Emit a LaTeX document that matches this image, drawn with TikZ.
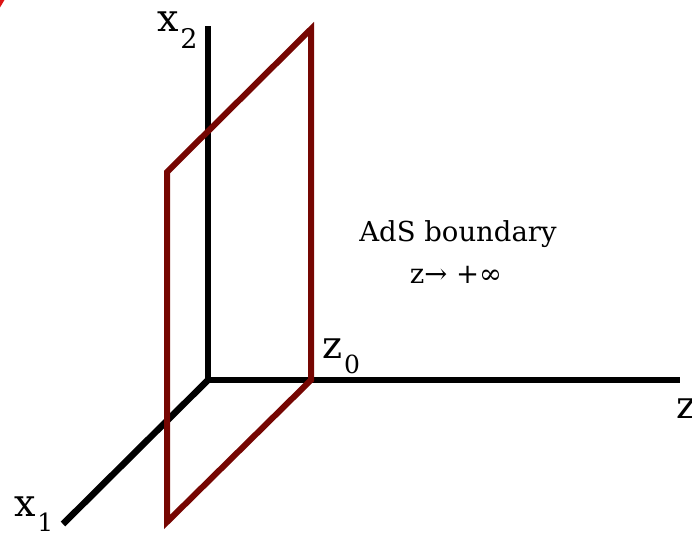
\documentclass[tikz,border=0pt]{standalone}
\usepackage{fontspec}
\setmainfont{DejaVu Serif}
\definecolor{plane}{RGB}{118,6,2}
\definecolor{markred}{RGB}{220,20,20}
\begin{document}
\begin{tikzpicture}[x=1pt,y=-1pt,
  axis/.style={line width=6.5pt,black,line cap=butt},
  planeedge/.style={line width=6pt,plane,line join=miter},
  lbl/.style={inner sep=0pt,outer sep=0pt,font=\fontsize{38}{38}\selectfont},
  txt/.style={inner sep=0pt,outer sep=0pt,font=\fontsize{27.5}{30}\selectfont}]
\useasboundingbox (0,0) rectangle (692,534);
\fill[markred] (0,0) -- (4.5,0) -- (0,7.5) -- cycle;
% axes
\coordinate (O) at (208,380);
\coordinate (x2end) at (208,26);
\coordinate (zend) at (680,380);
\coordinate (x1end) at (63,524);
\draw[axis] (O) -- (x2end);
\draw[axis] (O) -- (zend);
\draw[axis] (O) -- (x1end);
% plane
\coordinate (P1) at (311,29);
\coordinate (P2) at (311,380);
\coordinate (P3) at (167,522);
\coordinate (P4) at (167,172);
\draw[planeedge] (P1) -- (P2) -- (P3) -- (P4) -- cycle;
% labels
\node[lbl,anchor=base west] (lx2) at (157,32) {x\kern2pt\raisebox{-17pt}{\fontsize{27}{27}\selectfont 2}};
\node[lbl,anchor=base west] (lx1) at (14,516) {x\kern2pt\raisebox{-15pt}{\fontsize{25}{25}\selectfont 1}};
\node[lbl,anchor=base west] (lz0) at (322,358) {z\kern2pt\raisebox{-15pt}{\fontsize{25}{25}\selectfont 0}};
\node[lbl,anchor=base west] (lz) at (676,418) {z};
\node[txt,anchor=base] (ads) at (458,242) {AdS boundary};
\node[txt,anchor=base] (lim) at (456,283) {z→ +∞};
\end{tikzpicture}
\end{document}
